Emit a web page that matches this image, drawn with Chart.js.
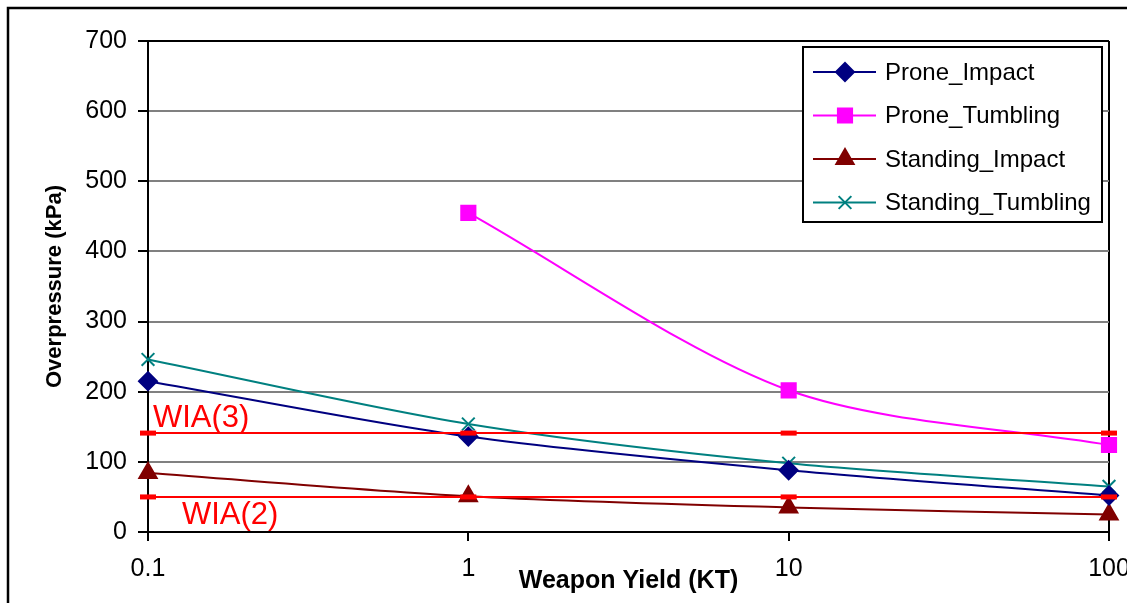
<!DOCTYPE html>
<html>
<head>
<meta charset="utf-8">
<script src="https://cdn.jsdelivr.net/npm/chart.js@4/dist/chart.umd.min.js"></script>
<style>
  html, body { margin: 0; padding: 0; background: #fff; }
  canvas { display: block; }
</style>
</head>
<body>
<canvas id="chart" width="1127" height="603"></canvas>
<script>
// weapon yield (KT), log axis
const yields = [0.1, 1, 10, 100];
const yTicks = [0, 100, 200, 300, 400, 500, 600, 700];

// overpressure values (kPa)
const proneImpact = [215, 136, 88, 52];
const proneTumbling = [null, 455, 202, 124];
const standingImpact = [84, 51, 35, 25];
const standingTumbling = [246, 154, 98, 65];

// injury thresholds
const wia3 = [141, 141, 141, 141];
const wia2 = [50, 50, 50, 50];

const FONT = '"Liberation Sans", Arial, sans-serif';
Chart.defaults.font.family = FONT;
Chart.defaults.color = '#000';

const pts = arr => yields.map((x, i) => ({ x: x, y: arr[i] }));

function series(label, arr, color, style, radius) {
  return {
    label: label,
    data: pts(arr),
    borderColor: color,
    backgroundColor: color,
    borderWidth: 2,
    pointStyle: style,
    pointRadius: radius,
    pointBorderWidth: 2,
    tension: 0.3,
    clip: false,
    order: 1
  };
}

function threshold(label, arr) {
  return {
    label: label,
    data: pts(arr),
    borderColor: '#ff0000',
    backgroundColor: '#ff0000',
    borderWidth: 2,
    pointStyle: 'line',
    pointRadius: 8,
    pointBorderWidth: 5,
    clip: false,
    order: 0,
    isThreshold: true
  };
}

// outer frame round the whole chart
const framePlugin = {
  id: 'frame',
  beforeDraw(chart) {
    const ctx = chart.ctx;
    ctx.save();
    ctx.strokeStyle = '#000';
    ctx.lineWidth = 2.5;
    ctx.strokeRect(8, 8, chart.width + 20, chart.height + 20);
    ctx.restore();
  }
};

// WIA labels + boxed legend inside the plot
const overlayPlugin = {
  id: 'overlay',
  afterDraw(chart) {
    const ctx = chart.ctx;
    const x = chart.scales.x, y = chart.scales.y;
    const area = chart.chartArea;
    ctx.save();

    ctx.fillStyle = '#ff0000';
    ctx.font = '31px ' + FONT;
    ctx.textAlign = 'left';
    ctx.textBaseline = 'alphabetic';
    ctx.fillText('WIA(3)', x.getPixelForValue(yields[0]) + 5, y.getPixelForValue(wia3[0]) - 6);
    ctx.fillText('WIA(2)', x.getPixelForValue(yields[0]) + 34, y.getPixelForValue(wia2[0]) + 27);

    // legend box
    const right = area.right - 7, top = area.top + 6;
    const left = right - 299, h = 175;
    ctx.fillStyle = '#fff';
    ctx.fillRect(left, top, right - left, h);
    ctx.strokeStyle = '#000';
    ctx.lineWidth = 2;
    ctx.strokeRect(left, top, right - left, h);

    ctx.font = '24px ' + FONT;
    ctx.textBaseline = 'middle';
    const items = chart.data.datasets.filter(d => !d.isThreshold);
    items.forEach((d, i) => {
      const ry = top + 25 + i * 43.5;
      ctx.strokeStyle = d.borderColor;
      ctx.fillStyle = d.backgroundColor;
      ctx.lineWidth = 2;
      ctx.beginPath();
      ctx.moveTo(left + 10, ry);
      ctx.lineTo(left + 73, ry);
      ctx.stroke();
      Chart.helpers.drawPoint(ctx, {
        pointStyle: d.pointStyle,
        radius: d.pointRadius,
        borderWidth: d.pointBorderWidth,
        rotation: 0
      }, left + 42, ry);
      ctx.fillStyle = '#000';
      ctx.fillText(d.label, left + 82, ry + 1);
    });
    ctx.restore();
  }
};

new Chart(document.getElementById('chart'), {
  type: 'line',
  data: {
    datasets: [
      series('Prone_Impact', proneImpact, '#000080', 'rectRot', 9),
      series('Prone_Tumbling', proneTumbling, '#ff00ff', 'rect', 10),
      series('Standing_Impact', standingImpact, '#800000', 'triangle', 10),
      series('Standing_Tumbling', standingTumbling, '#008080', 'crossRot', 9),
      threshold('WIA(3)', wia3),
      threshold('WIA(2)', wia2)
    ]
  },
  options: {
    responsive: false,
    animation: false,
    layout: { padding: { top: 41, right: 18, left: 0, bottom: 0 } },
    plugins: {
      legend: { display: false },
      tooltip: { enabled: false }
    },
    scales: {
      x: {
        type: 'logarithmic',
        min: 0.1,
        max: 100,
        afterBuildTicks: axis => { axis.ticks = yields.map(v => ({ value: v })); },
        afterFit: axis => { axis.height = 71; axis.paddingLeft = 0; axis.paddingRight = 0; },
        ticks: {
          font: { size: 25 },
          padding: 13,
          maxRotation: 0,
          autoSkip: false,
          callback: v => String(v)
        },
        grid: {
          color: c => (c.tick && c.tick.value === 100) ? '#000' : 'rgba(0,0,0,0)',
          lineWidth: 2,
          tickColor: '#000',
          tickWidth: 2,
          tickLength: 9
        },
        border: { display: true, color: '#000', width: 2 },
        title: {
          display: true,
          text: 'Weapon Yield (KT)',
          font: { size: 25, weight: 'bold' },
          padding: { top: 0, bottom: 7 }
        }
      },
      y: {
        min: 0,
        max: 700,
        afterBuildTicks: axis => { axis.ticks = yTicks.map(v => ({ value: v })); },
        afterFit: axis => { axis.width = 148; axis.paddingTop = 0; axis.paddingBottom = 0; },
        ticks: {
          font: { size: 25 },
          padding: 11
        },
        grid: {
          color: c => (c.tick && c.tick.value === 700) ? '#000' : '#808080',
          lineWidth: 2,
          tickColor: '#000',
          tickWidth: 2,
          tickLength: 10
        },
        border: { display: true, color: '#000', width: 2 },
        title: {
          display: true,
          text: 'Overpressure (kPa)',
          font: { size: 22, weight: 'bold' },
          padding: { top: 42, bottom: 0 }
        }
      }
    }
  },
  plugins: [framePlugin, overlayPlugin]
});
</script>
</body>
</html>
